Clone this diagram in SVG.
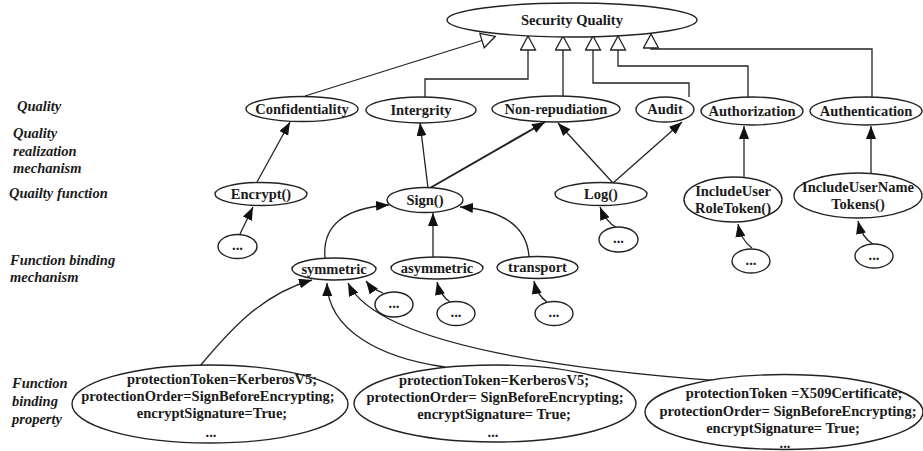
<svg xmlns="http://www.w3.org/2000/svg" width="923" height="451" viewBox="0 0 923 451">
<defs>
<marker id="arr" viewBox="0 0 13 10" refX="13" refY="5" markerWidth="13" markerHeight="10" markerUnits="userSpaceOnUse" orient="auto">
<path d="M0,0 L13,5 L0,10 z" fill="#111"/>
</marker>
<marker id="gen" viewBox="0 0 16 17" refX="1" refY="8.5" markerWidth="16" markerHeight="17" markerUnits="userSpaceOnUse" orient="auto">
<path d="M1,1 L15,8.5 L1,16 z" fill="#fff" stroke="#222" stroke-width="1.3"/>
</marker>
</defs>
<style>
.n ellipse{fill:#fff;stroke:#222;stroke-width:1.4}
.t{font-family:"Liberation Serif","Times New Roman",serif;font-weight:bold;font-size:14.5px;fill:#1a1a1a;text-anchor:middle}
.lab{font-family:"Liberation Serif","Times New Roman",serif;font-weight:bold;font-style:italic;font-size:14.5px;fill:#1a1a1a}
.c path,.c polyline,.c line{fill:none;stroke:#222;stroke-width:1.3}
.g{marker-end:url(#gen)}
.a{marker-end:url(#arr)}
</style>
<rect width="923" height="451" fill="#fff"/>

<g id="labels">
<text class="lab" x="17" y="111">Quality</text>
<text class="lab" x="13" y="138">Quality</text>
<text class="lab" x="13" y="156">realization</text>
<text class="lab" x="13" y="173">mechanism</text>
<text class="lab" x="9" y="198">Quailty function</text>
<text class="lab" x="10" y="265">Function binding</text>
<text class="lab" x="10" y="282">mechanism</text>
<text class="lab" x="12" y="388">Function</text>
<text class="lab" x="12" y="406">binding</text>
<text class="lab" x="12" y="424">property</text>
</g>

<g class="c" id="connectors">
<line class="g" x1="305" y1="96" x2="482" y2="40.5"/>
<polyline class="g" points="425,97 425,79 528,79 528,50"/>
<line class="g" x1="563" y1="96" x2="563" y2="50"/>
<polyline class="g" points="689,97 689,83 593,83 593,50"/>
<polyline class="g" points="748,97 748,66 618,66 618,50"/>
<polyline class="g" points="872,97 872,49 651,49 651,48"/>
<line class="a" x1="257" y1="182" x2="290" y2="122"/>
<line class="a" x1="428" y1="188" x2="420" y2="123"/>
<line class="a" x1="430" y1="188" x2="545" y2="122" style="stroke-width:2"/>
<line class="a" x1="613" y1="183" x2="558" y2="123"/>
<line class="a" x1="613" y1="183" x2="682" y2="122"/>
<line class="a" x1="744" y1="178" x2="744" y2="126"/>
<line class="a" x1="871" y1="174" x2="871" y2="126"/>
<path class="a" d="M240,234 L253,207"/>
<path class="a" d="M617,228 Q606,222 600,207"/>
<path class="a" d="M752,248 Q741,240 738,224"/>
<path class="a" d="M873,244 Q862,238 858,221"/>
<path class="a" d="M325,258 C322,225 345,208 389,205"/>
<line class="a" x1="433" y1="257" x2="433" y2="213"/>
<path class="a" d="M529,257 C527,225 500,210 460,207"/>
<path class="a" d="M383,293 Q372,289 366,281"/>
<path class="a" d="M450,302 Q440,295 437,282"/>
<path class="a" d="M547,302 Q537,295 534,281"/>
<path class="a" d="M200,366 C230,330 262,294 312,280"/>
<path class="a" d="M445,367 C380,358 328,330 327,283"/>
<path class="a" d="M722,381 C600,372 380,350 348,283"/>
</g>

<g class="n" id="security-quality"><ellipse cx="572" cy="20" rx="125" ry="17"/><text class="t" x="572" y="25">Security Quality</text></g>

<g class="n" id="confidentiality"><ellipse cx="302" cy="109" rx="56" ry="12.5"/><text class="t" x="302" y="114">Confidentiality</text></g>
<g class="n" id="intergrity"><ellipse cx="421" cy="110" rx="55" ry="13"/><text class="t" x="421" y="115">Intergrity</text></g>
<g class="n" id="non-repudiation"><ellipse cx="556" cy="109" rx="64" ry="13"/><text class="t" x="556" y="114">Non-repudiation</text></g>
<g class="n" id="audit"><ellipse cx="665" cy="109.5" rx="29" ry="12.5"/><text class="t" x="665" y="114">Audit</text></g>
<g class="n" id="authorization"><ellipse cx="752" cy="111" rx="51" ry="14"/><text class="t" x="752" y="116">Authorization</text></g>
<g class="n" id="authentication"><ellipse cx="866" cy="111" rx="56" ry="14"/><text class="t" x="866" y="116">Authentication</text></g>

<g class="n" id="encrypt"><ellipse cx="261" cy="194" rx="46" ry="11.5"/><text class="t" x="261" y="199">Encrypt()</text></g>
<g class="n" id="sign"><ellipse cx="425" cy="200" rx="38" ry="12.5"/><text class="t" x="425" y="205">Sign()</text></g>
<g class="n" id="log"><ellipse cx="601" cy="194" rx="46" ry="11.5"/><text class="t" x="601" y="199">Log()</text></g>
<g class="n" id="include-user-role-token"><ellipse cx="733" cy="199.5" rx="49" ry="22.5"/><text class="t" x="733" y="196">IncludeUser</text><text class="t" x="733" y="213">RoleToken()</text></g>
<g class="n" id="include-user-name-tokens"><ellipse cx="858" cy="195.5" rx="64" ry="22.5"/><text class="t" x="858" y="192">IncludeUserName</text><text class="t" x="858" y="209">Tokens()</text></g>

<g class="n" id="dots-encrypt"><ellipse cx="237.5" cy="246.5" rx="19.5" ry="12"/><text class="t" x="237.5" y="250">...</text></g>
<g class="n" id="dots-log"><ellipse cx="618.5" cy="239.5" rx="19.5" ry="12.5"/><text class="t" x="618.5" y="243">...</text></g>
<g class="n" id="dots-role"><ellipse cx="751" cy="261" rx="19" ry="12"/><text class="t" x="751" y="264.5">...</text></g>
<g class="n" id="dots-name"><ellipse cx="874" cy="256" rx="19" ry="12"/><text class="t" x="874" y="259.5">...</text></g>

<g class="n" id="symmetric"><ellipse cx="334" cy="269" rx="42" ry="11"/><text class="t" x="334" y="274">symmetric</text></g>
<g class="n" id="asymmetric"><ellipse cx="437" cy="268" rx="46" ry="11"/><text class="t" x="437" y="273">asymmetric</text></g>
<g class="n" id="transport"><ellipse cx="537.5" cy="267.5" rx="40.5" ry="11"/><text class="t" x="537.5" y="272">transport</text></g>

<g class="n" id="dots-symmetric"><ellipse cx="394" cy="304.5" rx="19" ry="12.5"/><text class="t" x="394" y="308">...</text></g>
<g class="n" id="dots-asymmetric"><ellipse cx="456" cy="313.5" rx="19" ry="12"/><text class="t" x="456" y="317">...</text></g>
<g class="n" id="dots-transport"><ellipse cx="554" cy="313.5" rx="19" ry="12"/><text class="t" x="554" y="317">...</text></g>

<g class="n" id="property-1"><ellipse cx="210" cy="404" rx="138" ry="39"/>
<text class="t" x="222" y="384">protectionToken=KerberosV5;</text>
<text class="t" x="208" y="401">protectionOrder=SignBeforeEncrypting;</text>
<text class="t" x="212" y="418">encryptSignature=True;</text>
<text class="t" x="211" y="437">...</text></g>
<g class="n" id="property-2"><ellipse cx="495" cy="403.5" rx="141" ry="38.5"/>
<text class="t" x="494" y="385">protectionToken=KerberosV5;</text>
<text class="t" x="495" y="402">protectionOrder= SignBeforeEncrypting;</text>
<text class="t" x="494" y="419">encryptSignature= True;</text>
<text class="t" x="493" y="437">...</text></g>
<g class="n" id="property-3"><ellipse cx="784" cy="412" rx="139" ry="37.5"/>
<text class="t" x="794" y="398">protectionToken =X509Certificate;</text>
<text class="t" x="788" y="416">protectionOrder= SignBeforeEncrypting;</text>
<text class="t" x="783" y="433">encryptSignature= True;</text>
<text class="t" x="785" y="448">...</text></g>
</svg>
